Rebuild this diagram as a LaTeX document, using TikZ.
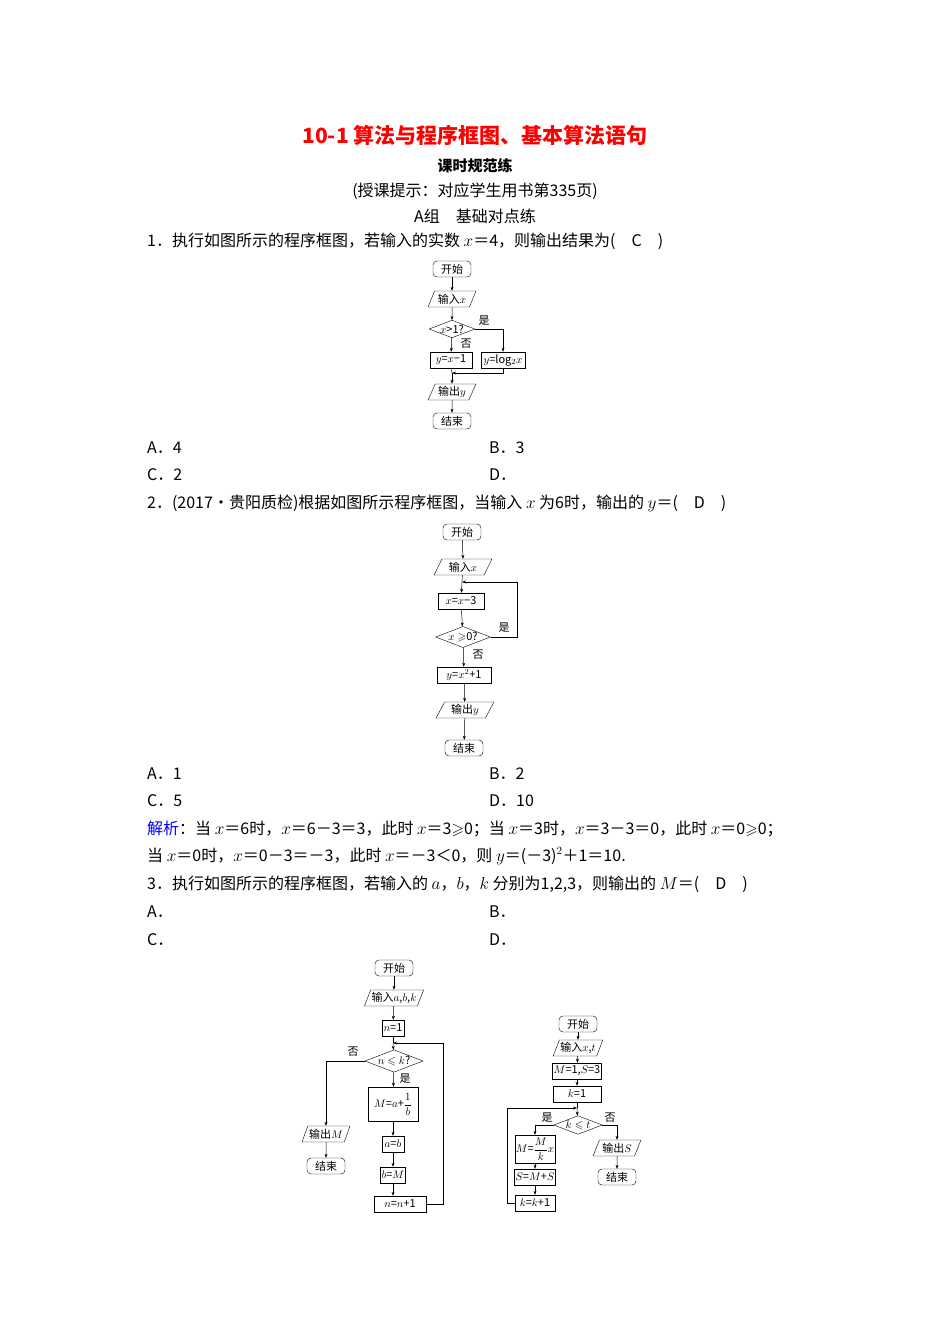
\documentclass[tikz,border=0pt]{standalone}
\usepackage{amsmath,amssymb}
\usepackage{fontspec}
\setmainfont{Liberation Serif}
\newfontfamily\cjk{Noto Sans CJK SC}
\usetikzlibrary{shapes.geometric,arrows.meta}
\begin{document}
\begin{tikzpicture}[x=1pt,y=-1pt,
  txt/.style={anchor=west,inner sep=0pt,font=\fontsize{16}{19}\selectfont\cjk},
  fc/.style={font=\fontsize{11}{13}\selectfont\cjk,inner sep=1pt},
  term/.style={fc,draw,rounded corners=4pt,minimum height=16pt,minimum width=38pt},
  proc/.style={fc,draw,minimum height=16pt},
  io/.style={fc,draw,trapezium,trapezium left angle=65,trapezium right angle=115,minimum height=16pt,minimum width=48pt,trapezium stretches=true},
  dec/.style={fc,draw,diamond,aspect=2.6,inner sep=0pt},
  lab/.style={fc,inner sep=0pt},
  arr/.style={-{Stealth[length=4pt,width=3pt]},line width=0.5pt}]
\useasboundingbox (0,0) rectangle (950,1344);
\fill[white] (0,0) rectangle (950,1344);
% header
\node[inner sep=0pt,text=red,font=\fontsize{21}{24}\selectfont\cjk\bfseries] (title) at (475,135) {10-1\ 算法与程序框图、基本算法语句};
\node[inner sep=0pt,font=\fontsize{15}{18}\selectfont\cjk\bfseries] (sub) at (475,166) {课时规范练};
\node[inner sep=0pt,font=\fontsize{16}{19}\selectfont\cjk] (hint) at (475,191) {(授课提示：对应学生用书第335页)};
\node[inner sep=0pt,font=\fontsize{16}{19}\selectfont\cjk] (grp) at (475,216) {A组\quad 基础对点练};
\node[txt] (q1) at (147,241) {1．执行如图所示的程序框图，若输入的实数 $x$＝4，则输出结果为(\quad C\quad )};
\node[txt] (a1) at (147,448) {A．4};
\node[txt] (b1) at (489,448) {B．3};
\node[txt] (c1) at (147,475) {C．2};
\node[txt] (d1) at (489,475) {D．};
\node[txt] (q2) at (147,503) {2．(2017·贵阳质检)根据如图所示程序框图，当输入 $x$ 为6时，输出的 $y$＝(\quad D\quad )};
\node[txt] (a2) at (147,774) {A．1};
\node[txt] (b2) at (489,774) {B．2};
\node[txt] (c2) at (147,801) {C．5};
\node[txt] (d2) at (489,801) {D．10};
\node[txt] (s1) at (147,829) {\textcolor{blue}{解析}：当 $x$＝6时，$x$＝6－3＝3，此时 $x$＝3$\geqslant$0；当 $x$＝3时，$x$＝3－3＝0，此时 $x$＝0$\geqslant$0；};
\node[txt] (s2) at (147,856) {当 $x$＝0时，$x$＝0－3＝－3，此时 $x$＝－3＜0，则 $y$＝(－3)$^2$＋1＝10.};
\node[txt] (q3) at (147,884) {3．执行如图所示的程序框图，若输入的 $a$，$b$，$k$ 分别为1,2,3，则输出的 $M$＝(\quad D\quad )};
\node[txt] (a3) at (147,912) {A．};
\node[txt] (b3) at (489,912) {B．};
\node[txt] (c3) at (147,940) {C．};
\node[txt] (d3) at (489,940) {D．};
% chart 1
\node[term] (k1) at (452,269) {开始};
\node[io] (i1) at (452,299) {输入$x$};
\node[dec] (d1c) at (452,329) {$x$>1?};
\node[proc,minimum width=42pt] (p1) at (451,360) {$y$=$x$−1};
\node[proc,minimum width=44pt] (p2) at (503,360) {$y$=log$_2x$};
\node[io] (o1) at (452,392) {输出$y$};
\node[term] (e1) at (452,421) {结束};
\coordinate (m1) at (452,373);
\draw[arr] (k1) -- (i1); \draw[arr] (i1) -- (d1c); \draw[arr] (d1c) -- (p1);
\draw[arr] (d1c.east) -| (p2.north);
\draw (p1.south) -- (m1); \draw[arr] (p2.south) |- (m1);
\draw[arr] (m1) -- (o1); \draw[arr] (o1) -- (e1);
\node[lab] at (484,321) {是}; \node[lab] at (466,344) {否};
% chart 2
\node[term] (k2) at (462,532) {开始};
\node[io,minimum width=58pt] (i2) at (463,567) {输入$x$};
\node[proc,minimum width=46pt] (p3) at (461,601) {$x$=$x$−3};
\node[dec] (d2c) at (463,637) {$x\geqslant$0?};
\node[proc,minimum width=54pt] (p4) at (464,675) {$y$=$x^2$+1};
\node[io,minimum width=58pt] (o2) at (465,710) {输出$y$};
\node[term] (e2) at (464,748) {结束};
\coordinate (m2) at (462,582);
\draw[arr] (k2) -- (i2|-i2.north); \draw (i2) -- (m2); \draw[arr] (m2) -- (p3);
\draw[arr] (p3) -- (d2c); \draw[arr] (d2c) -- (p4); \draw[arr] (p4) -- (o2); \draw[arr] (o2) -- (e2);
\draw[arr] (d2c.east) -- (517,637) -- (517,582) -- (m2);
\node[lab] at (504,628) {是}; \node[lab] at (478,655) {否};
% chart 3
\node[term] (k3) at (394,968) {开始};
\node[io,minimum width=58pt] (i3) at (394,998) {输入$a$,$b$,$k$};
\node[proc,minimum width=22pt] (p5) at (393,1028) {$n$=1};
\node[dec] (d3c) at (394,1061) {$n\leqslant k$?};
\node[proc,minimum height=34pt,minimum width=50pt] (p6) at (393,1104) {$M$=$a$+$\dfrac{1}{b}$};
\node[proc,minimum width=22pt] (p7) at (393,1144) {$a$=$b$};
\node[proc,minimum width=24pt] (p8) at (393,1175) {$b$=$M$};
\node[proc,minimum width=52pt] (p9) at (400,1204) {$n$=$n$+1};
\node[io] (o3) at (326,1134) {输出$M$};
\node[term] (e3) at (326,1166) {结束};
\coordinate (m3) at (393,1043);
\draw[arr] (k3) -- (i3); \draw[arr] (i3) -- (p5); \draw (p5) -- (m3); \draw[arr] (m3) -- (d3c);
\draw[arr] (d3c) -- (p6); \draw[arr] (p6) -- (p7); \draw[arr] (p7) -- (p8); \draw[arr] (p8) -- (p8|-p9.north);
\draw[arr] (p9.east) -- (443,1204) -- (443,1043) -- (m3);
\draw[arr] (d3c.west) -| (o3.north);
\draw[arr] (o3) -- (e3);
\node[lab] at (353,1052) {否}; \node[lab] at (405,1079) {是};
% chart 4
\node[term] (k4) at (578,1024) {开始};
\node[io] (i4) at (578,1048) {输入$x$,$t$};
\node[proc,minimum width=48pt] (p10) at (577,1071) {$M$=1,$S$=3};
\node[proc,minimum width=48pt] (p11) at (577,1094) {$k$=1};
\node[dec] (d4c) at (578,1125) {$k\leqslant t$};
\node[proc,minimum width=40pt,minimum height=28pt] (p12) at (535,1149) {$M$=$\dfrac{M}{k}x$};
\node[proc,minimum width=40pt] (p13) at (535,1177) {$S$=$M$+$S$};
\node[proc,minimum width=40pt] (p14) at (535,1203) {$k$=$k$+1};
\node[io] (o4) at (617,1148) {输出$S$};
\node[term] (e4) at (617,1177) {结束};
\coordinate (m4) at (577,1108);
\draw[arr] (k4) -- (i4); \draw[arr] (i4) -- (p10); \draw[arr] (p10) -- (p11);
\draw (p11) -- (m4); \draw[arr] (m4) -- (d4c);
\draw[arr] (d4c.west) -| (p12.north); \draw[arr] (p12) -- (p13); \draw[arr] (p13) -- (p14);
\draw[arr] (p14.west) -- (507,1203) -- (507,1108) -- (m4);
\draw[arr] (d4c.east) -| (o4.north); \draw[arr] (o4) -- (e4);
\node[lab] at (547,1118) {是}; \node[lab] at (610,1118) {否};
\end{tikzpicture}
\end{document}
